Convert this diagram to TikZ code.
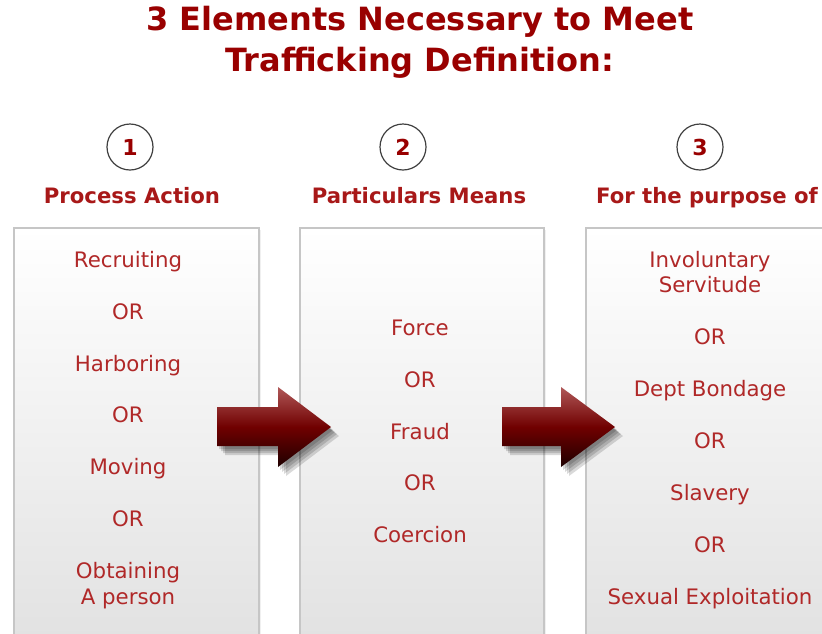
\documentclass[tikz,border=0pt]{standalone}
\usepackage{fontspec}
\setmainfont{DejaVu Sans}
\definecolor{titlered}{HTML}{990000}
\definecolor{headred}{HTML}{A81818}
\definecolor{itemred}{HTML}{B02828}
\definecolor{boxline}{HTML}{C6C6C6}
\definecolor{boxbot}{HTML}{E2E2E2}
\definecolor{arrtop}{HTML}{B05858}
\definecolor{arrmid}{HTML}{700000}
\definecolor{arrbot}{HTML}{1E0000}
\begin{document}
\begin{tikzpicture}[x=1pt,y=-1pt,
  titletext/.style={font=\bfseries\fontsize{32}{38}\selectfont, text=titlered, inner sep=0pt},
  numcircle/.style={circle, draw=black!75, line width=1.2pt, minimum size=46pt, inner sep=0pt,
     font=\bfseries\fontsize{22}{24}\selectfont, text=titlered, fill=white},
  headtext/.style={font=\bfseries\fontsize{21.2}{25}\selectfont, text=headred, inner sep=0pt,
     text height=1.5ex, text depth=0.25ex, yshift=-4pt},
  colbox/.style={draw=boxline, line width=1.8pt, top color=white, bottom color=boxbot,
     inner sep=0pt, anchor=north west},
  item/.style={font=\fontsize{21.3}{25}\selectfont, text=itemred, inner sep=0pt,
     text height=1.5ex, text depth=0.25ex, yshift=-4pt},
  arrowshadow/.style={fill=black, opacity=0.15},
  bigarrow/.style={top color=arrtop, bottom color=arrbot, middle color=arrmid}
]
\useasboundingbox (0,0) rectangle (822,633);
\clip (0,0) rectangle (822,633);
\fill[white] (0,0) rectangle (822,633);

% title
\node[titletext] (t1) at (420,22) {3 Elements Necessary to Meet};
\node[titletext] (t2) at (420,63) {Trafficking Definition:};

% numbers
\node[numcircle] (c1) at (130,147) {1};
\node[numcircle] (c2) at (403,147) {2};
\node[numcircle] (c3) at (700,147) {3};

% headers
\node[headtext] (h1) at (132,196) {Process Action};
\node[headtext] (h2) at (419,196) {Particulars Means};
\node[headtext] (h3) at (707,196) {For the purpose of};

% boxes (subtle shadow first)
\fill[black, opacity=0.06] (16,230) rectangle (261,640);
\fill[black, opacity=0.06] (302,230) rectangle (546,640);
\fill[black, opacity=0.06] (588,230) rectangle (840,640);
\node[colbox, minimum width=245pt, minimum height=410pt] (b1) at (13,227) {};
\node[colbox, minimum width=244pt, minimum height=410pt] (b2) at (299,227) {};
\node[colbox, minimum width=255pt, minimum height=410pt] (b3) at (585,227) {};

% box 1 items
\node[item] (r1) at (128,260) {Recruiting};
\node[item] (o11) at (128,312) {OR};
\node[item] (r2) at (128,364) {Harboring};
\node[item] (o12) at (128,415) {OR};
\node[item] (r3) at (128,467) {Moving};
\node[item] (o13) at (128,519) {OR};
\node[item] (r4) at (128,571) {Obtaining};
\node[item] (r5) at (128,597) {A person};

% box 2 items
\node[item] (m1) at (420,328) {Force};
\node[item] (o21) at (420,380) {OR};
\node[item] (m2) at (420,432) {Fraud};
\node[item] (o22) at (420,483) {OR};
\node[item] (m3) at (420,535) {Coercion};

% box 3 items
\node[item] (p1) at (710,260) {Involuntary};
\node[item] (p2) at (710,285) {Servitude};
\node[item] (o31) at (710,337) {OR};
\node[item] (p3) at (710,389) {Dept Bondage};
\node[item] (o32) at (710,441) {OR};
\node[item] (p4) at (710,493) {Slavery};
\node[item] (o33) at (710,545) {OR};
\node[item] (p5) at (710,597) {Sexual Exploitation};

% arrows (shadows)
\foreach \dx/\dy in {2/3,4/5,6/7,8/9}{
  \fill[arrowshadow] (217+\dx,407+\dy) -- (278+\dx,407+\dy) -- (278+\dx,387+\dy) -- (331+\dx,427+\dy)
     -- (278+\dx,467+\dy) -- (278+\dx,446+\dy) -- (217+\dx,446+\dy) -- cycle;
  \fill[arrowshadow] (502+\dx,407+\dy) -- (561+\dx,407+\dy) -- (561+\dx,387+\dy) -- (615+\dx,427+\dy)
     -- (561+\dx,467+\dy) -- (561+\dx,446+\dy) -- (502+\dx,446+\dy) -- cycle;
}
\path[bigarrow] (217,407) -- (278,407) -- (278,387) -- (331,427) -- (278,467) -- (278,446) -- (217,446) -- cycle;
\path[bigarrow] (502,407) -- (561,407) -- (561,387) -- (615,427) -- (561,467) -- (561,446) -- (502,446) -- cycle;
\end{tikzpicture}
\end{document}
